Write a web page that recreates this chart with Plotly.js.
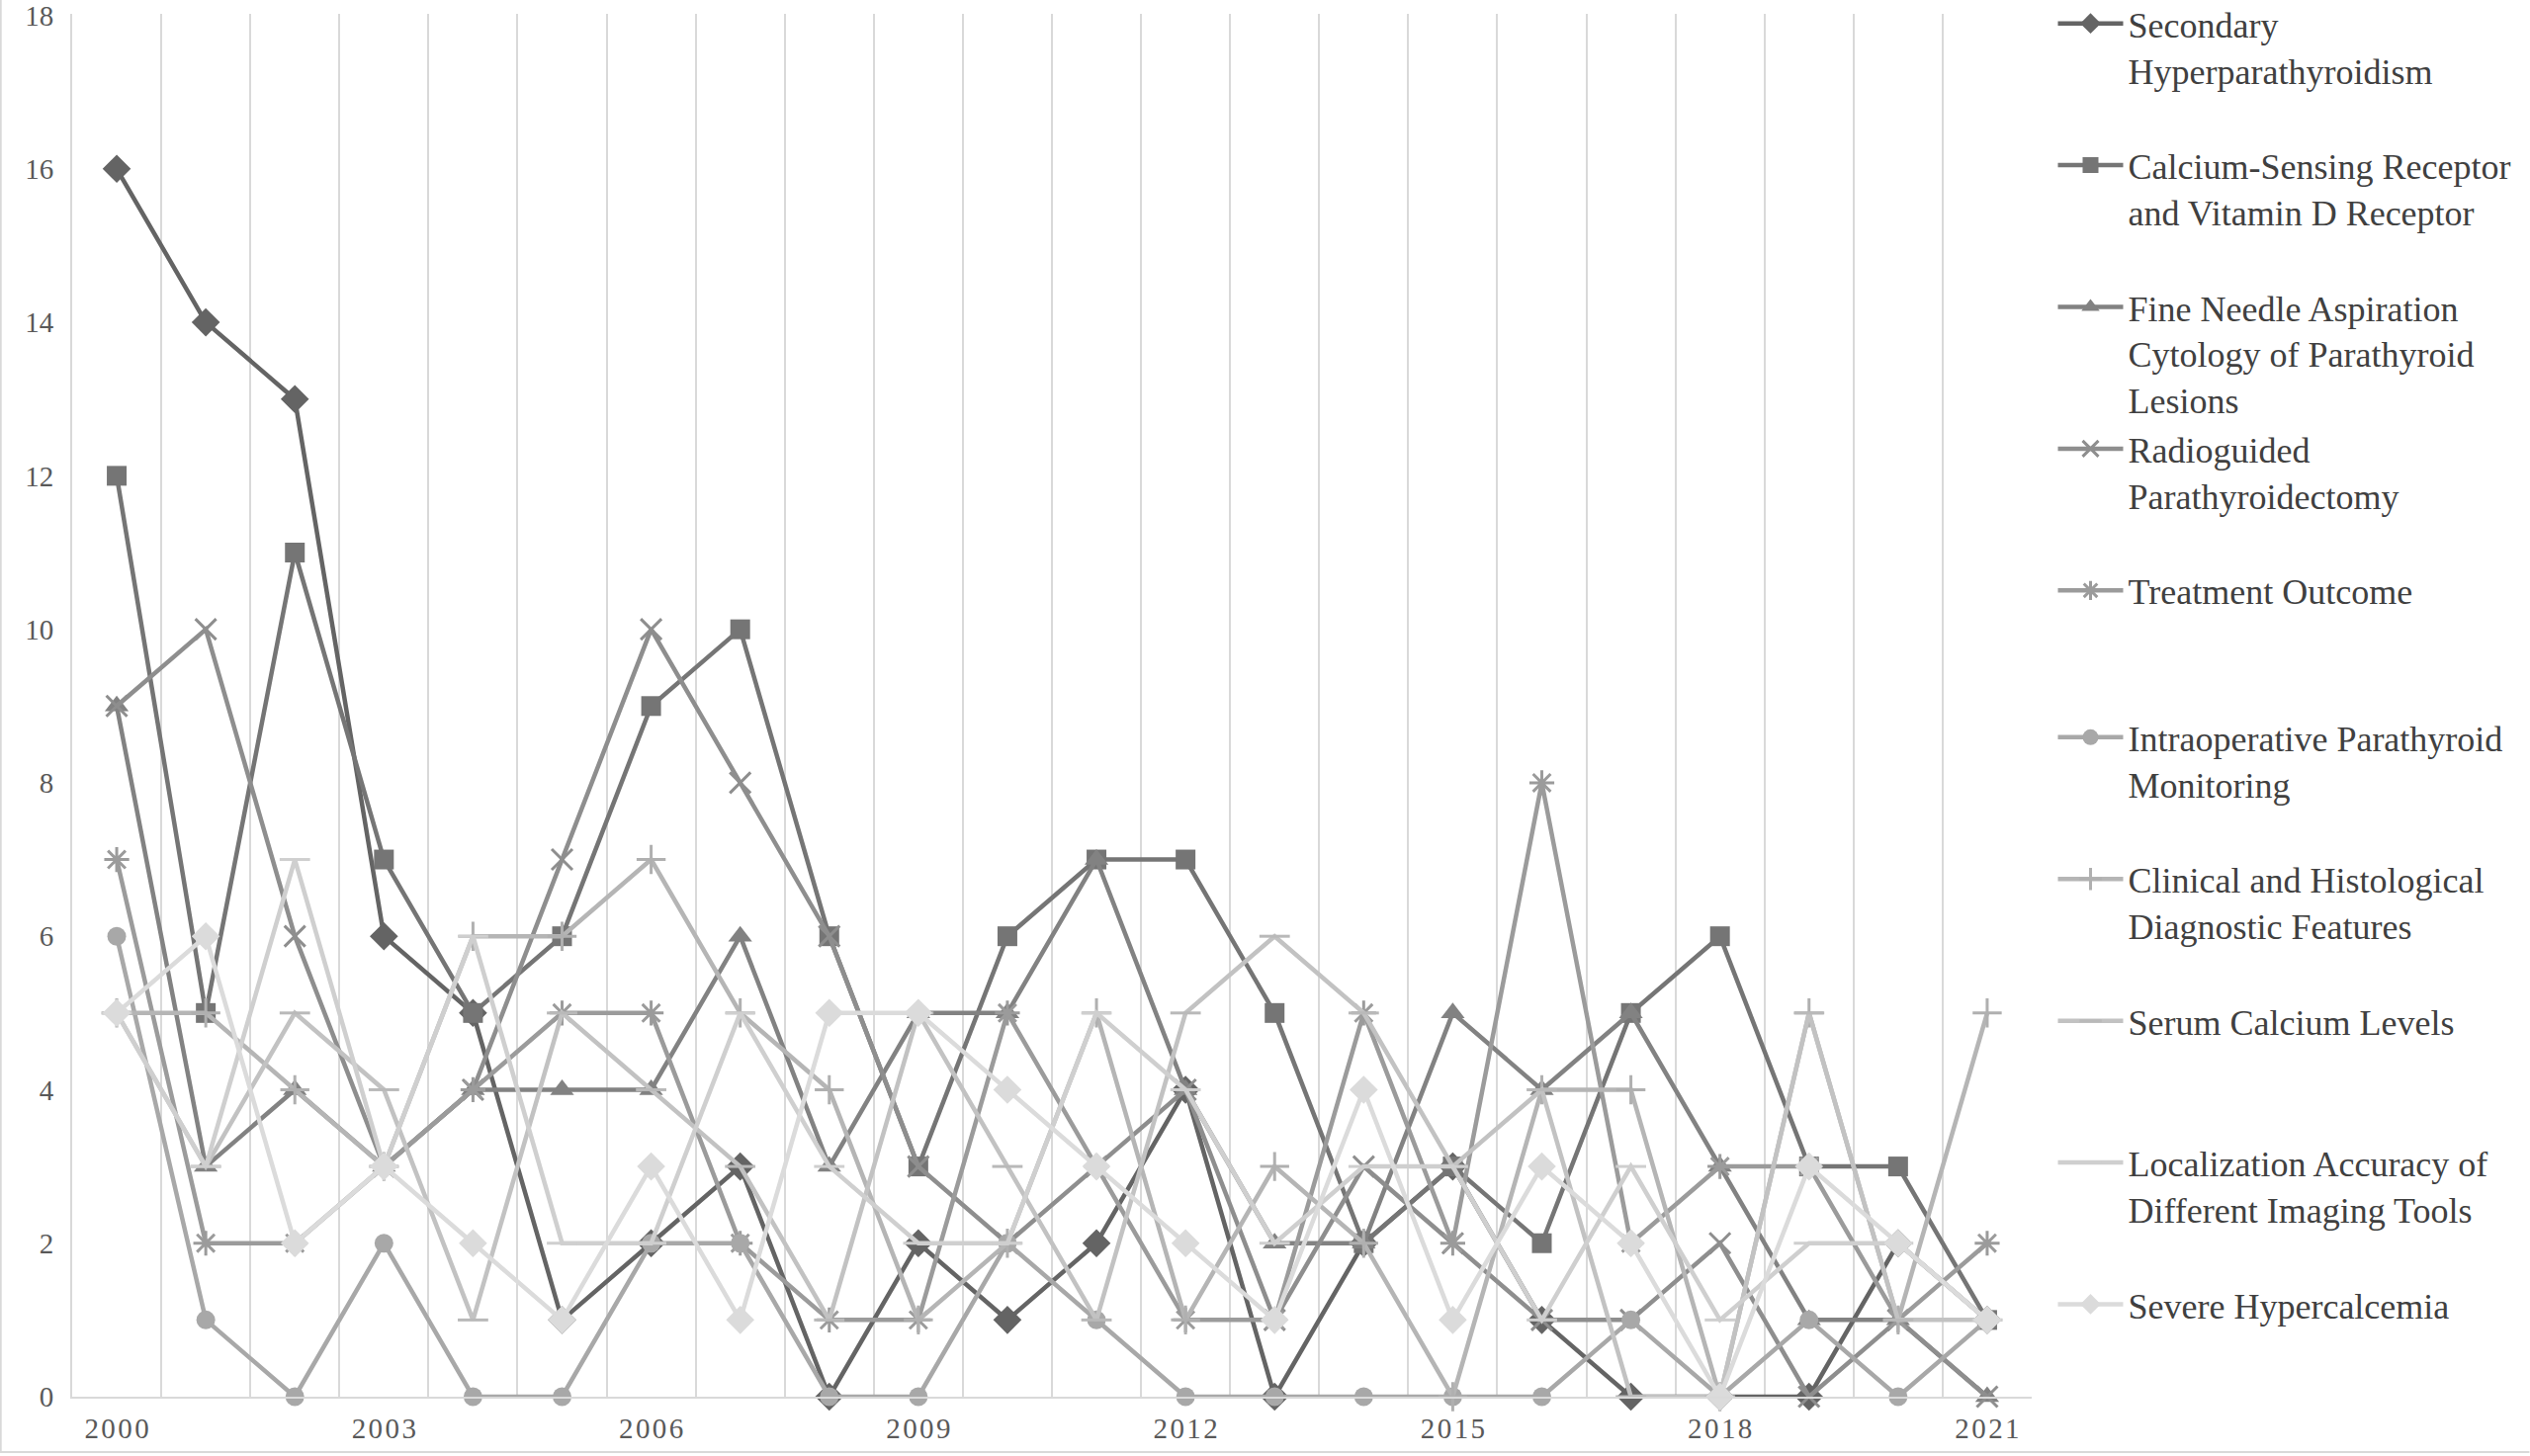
<!DOCTYPE html>
<html>
<head>
<meta charset="utf-8">
<script src="https://cdn.plot.ly/plotly-3.0.1.min.js"></script>
<style>
  html, body { margin: 0; padding: 0; background: #ffffff; }
  #chart { width: 2559px; height: 1473px; }
</style>
</head>
<body>
<div id="chart"></div>
<script>
// ---- Data ----
const years = [2000, 2001, 2002, 2003, 2004, 2005, 2006, 2007, 2008, 2009, 2010,
               2011, 2012, 2013, 2014, 2015, 2016, 2017, 2018, 2019, 2020, 2021];
const tickYears = [2000, 2003, 2006, 2009, 2012, 2015, 2018, 2021];
const yTicks = [0, 2, 4, 6, 8, 10, 12, 14, 16, 18];

const secondaryHyperparathyroidism = [16, 14, 13, 6, 5, 1, 2, 3, 0, 2, 1, 2, 4, 0, 2, 3, 1, 0, 0, 0, 2, 1];
const calciumSensingReceptor       = [12, 5, 11, 7, 5, 6, 9, 10, 6, 3, 6, 7, 7, 5, 2, 3, 2, 5, 6, 3, 3, 1];
const fineNeedleAspiration         = [9, 3, 4, 3, 4, 4, 4, 6, 3, 5, 5, 7, 4, 2, 2, 5, 4, 5, 3, 1, 1, 0];
const radioguidedParathyroidectomy = [9, 10, 6, 3, 4, 7, 10, 8, 6, 3, 2, 3, 4, 1, 3, 2, 1, 1, 2, 0, 1, 0];
const treatmentOutcome             = [7, 2, 2, 3, 4, 5, 5, 2, 1, 1, 5, 3, 1, 1, 5, 2, 8, 2, 3, 3, 1, 2];
const intraoperativeMonitoring     = [6, 1, 0, 2, 0, 0, 2, 2, 0, 0, 2, 1, 0, 0, 0, 0, 0, 1, 0, 1, 0, 1];
const clinicalHistologicalFeatures = [5, 5, 4, 3, 6, 6, 7, 5, 4, 1, 2, 5, 1, 3, 2, 0, 4, 4, 0, 5, 1, 5];
const serumCalciumLevels           = [5, 3, 5, 4, 1, 5, 4, 3, 1, 5, 3, 1, 5, 6, 5, 3, 4, 0, 0, 5, 1, 1];
const localizationAccuracy         = [5, 3, 7, 3, 6, 2, 2, 5, 3, 2, 2, 5, 4, 2, 3, 3, 1, 3, 1, 2, 2, 1];
const severeHypercalcemia          = [5, 6, 2, 3, 2, 1, 3, 1, 5, 5, 4, 3, 2, 1, 4, 1, 3, 2, 0, 3, 2, 1];

const seriesNames = [
  "Secondary<br>Hyperparathyroidism",
  "Calcium-Sensing Receptor<br>and Vitamin D Receptor",
  "Fine Needle Aspiration<br>Cytology of Parathyroid<br>Lesions",
  "Radioguided<br>Parathyroidectomy",
  "Treatment Outcome",
  "Intraoperative Parathyroid<br>Monitoring",
  "Clinical and Histological<br>Diagnostic Features",
  "Serum Calcium Levels",
  "Localization Accuracy of<br>Different Imaging Tools",
  "Severe Hypercalcemia"
];
const seriesValues = [
  secondaryHyperparathyroidism, calciumSensingReceptor, fineNeedleAspiration,
  radioguidedParathyroidectomy, treatmentOutcome, intraoperativeMonitoring,
  clinicalHistologicalFeatures, serumCalciumLevels, localizationAccuracy, severeHypercalcemia
];

// ---- Styles ----
const SERIF = "Liberation Serif";
const lineColors = ["#646464", "#757575", "#828282", "#8e8e8e", "#9b9b9b",
                    "#a8a8a8", "#b5b5b5", "#c2c2c2", "#cfcfcf", "#dbdbdb"];
const markerColors = ["#646464", "#757575", "#828282", "#8e8e8e", "#9b9b9b",
                      "#a8a8a8", "#b0b0b0", "#b9b9b9", "#cfcfcf", "#dbdbdb"];
const symbols = ["diamond", "square", "triangle-up", "x-thin-open", "asterisk-open",
                 "circle", "cross-thin-open", "line-ew-open", "line-ew-open", "diamond"];
const sizes = [22, 20, 21, 21, 21, 19, 21, 22, 22, 22];

function padLines(name) {
  const n = name.split("<br>").length;
  let s = name;
  for (let i = n; i < 3; i++) s += "<br>\u00a0";
  return s;
}

const traces = seriesValues.map((vals, i) => ({
  type: "scatter",
  mode: "lines+markers",
  x: years,
  y: vals,
  name: padLines(seriesNames[i]),
  legend: i < 5 ? "legend" : "legend2",
  line: { color: lineColors[i], width: 4.5 },
  marker: {
    symbol: symbols[i],
    size: sizes[i],
    color: markerColors[i],
    line: { color: markerColors[i], width: (symbols[i].indexOf("open") >= 0) ? 3 : 0 }
  },
  cliponaxis: false,
  hoverinfo: "x+y+name"
}));

const W = 2559, H = 1473;
const plotLeft = 73.3, plotRight = 2055.5, plotTop = 14.3, plotBottom = 1413;
const plotW = plotRight - plotLeft, plotH = plotBottom - plotTop;
const legendLeftPx = 2077;
const px2x = px => (px - plotLeft) / plotW;
const py2y = py => (plotBottom - py) / plotH;

const legendFont = { family: SERIF, size: 36, color: "#404040" };
const hair = "\u200a";

const layout = {
  width: W,
  height: H,
  paper_bgcolor: "#ffffff",
  plot_bgcolor: "#ffffff",
  margin: { l: plotLeft, r: W - plotRight, t: plotTop, b: H - plotBottom, autoexpand: false },
  font: { family: SERIF, color: "#595959" },
  showlegend: true,
  xaxis: {
    type: "linear",
    range: [1999.5, 2021.5],
    tickmode: "array",
    tickvals: tickYears,
    ticktext: tickYears.map(y => String(y).split("").join(hair)),
    ticks: "",
    showgrid: false,
    zeroline: false,
    showline: true,
    linecolor: "#d9d9d9",
    linewidth: 2,
    tickfont: { family: SERIF, size: 29, color: "#595959" },
    ticklabelstandoff: 5,
    ticklabeloverflow: "allow",
    minor: { tick0: 1999.5, dtick: 1, showgrid: true, gridcolor: "#d9d9d9", gridwidth: 2, ticks: "" }
  },
  yaxis: {
    range: [0, 18.02],
    tickmode: "array",
    tickvals: yTicks,
    ticktext: yTicks.map(String),
    ticks: "",
    showgrid: false,
    zeroline: false,
    showline: true,
    linecolor: "#d9d9d9",
    linewidth: 2,
    tickfont: { family: SERIF, size: 29, color: "#595959" },
    ticklabelstandoff: 11,
    ticklabeloverflow: "allow"
  },
  shapes: [
    { type: "line", xref: "paper", yref: "paper",
      x0: px2x(0), x1: px2x(W), y0: py2y(1469), y1: py2y(1469),
      line: { color: "#d9d9d9", width: 2 } },
    { type: "line", xref: "paper", yref: "paper",
      x0: px2x(1), x1: px2x(1), y0: py2y(0), y1: py2y(1469),
      line: { color: "#d9d9d9", width: 2 } }
  ],
  legend: {
    x: px2x(legendLeftPx),
    xanchor: "left",
    y: py2y(-5.9),
    yanchor: "top",
    valign: "top",
    font: legendFont,
    itemwidth: 66,
    bgcolor: "rgba(0,0,0,0)",
    borderwidth: 0,
    tracegroupgap: 0
  },
  legend2: {
    x: px2x(legendLeftPx),
    xanchor: "left",
    y: py2y(716.1),
    yanchor: "top",
    valign: "top",
    font: legendFont,
    itemwidth: 66,
    bgcolor: "rgba(0,0,0,0)",
    borderwidth: 0,
    tracegroupgap: 0
  }
};

Plotly.newPlot("chart", traces, layout, { displayModeBar: false, staticPlot: true });
</script>
</body>
</html>
